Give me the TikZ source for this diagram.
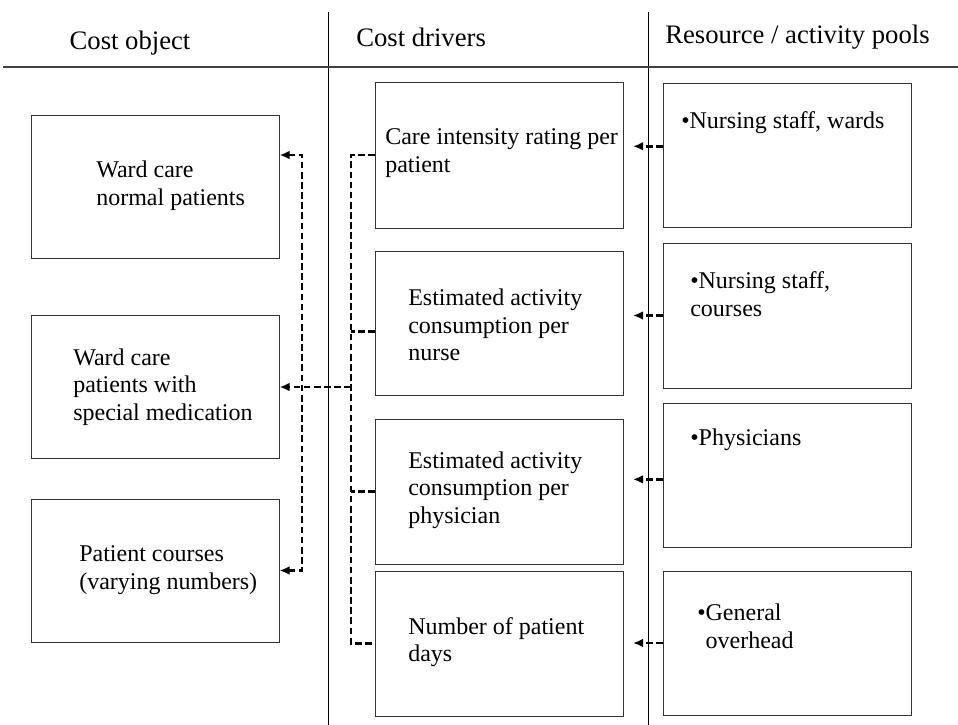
\documentclass[tikz,border=0pt]{standalone}
\usepackage{fontspec}
\setmainfont{Liberation Serif}
\usetikzlibrary{arrows.meta}

\tikzset{
    box/.style={draw=black!80, line width=0.75pt, minimum width=186pt, inner sep=0pt},
    txt/.style={anchor=west, inner sep=0pt, align=left, font=\fontsize{18}{20.7}\selectfont},
    head/.style={inner sep=0pt, font=\fontsize{20}{24}\selectfont},
    tip/.style={arrows={-Latex[length=7.5pt,width=6.5pt]}},
    link/.style={line width=2pt, dash pattern=on 5pt off 2.6pt, tip},
    rule/.style={line width=0.75pt}
}

\begin{document}
\begin{tikzpicture}[x=0.75pt,y=0.75pt,yscale=-1,xscale=1]
                    \useasboundingbox (0,0) rectangle (958,725);
                    %Straight Lines: columns and header rule
                    \draw [rule] (328,12) -- (328,725) ;
                    \draw [rule] (648,12) -- (648,725) ;
                    \draw [rule, black!75, line width=1pt] (3,67) -- (958,67) ;

                    % Headers
                    \node [head] (hobj) at (130,43) {Cost object};
                    \node [head, anchor=west] (hdrv) at (356,37) {Cost drivers};
                    \node [head, anchor=west] (hres) at (665,37) {Resource / activity pools};

                    %Shape: Rectangle (cost objects)
                    \node [box, minimum height=107.25pt] (l1) at (155,186.5) {};
                    \node [box, minimum height=107.25pt] (l2) at (155,387) {};
                    \node [box, minimum height=107.25pt] (l3) at (155,570.5) {};
                    %Shape: Rectangle (cost drivers)
                    \node [box, minimum height=109.5pt] (m1) at (499.5,155) {};
                    \node [box, minimum height=108pt] (m2) at (499.5,323) {};
                    \node [box, minimum height=108.75pt] (m3) at (499.5,491.5) {};
                    \node [box, minimum height=108.75pt] (m4) at (499.5,643.5) {};
                    %Shape: Rectangle (resource / activity pools)
                    \node [box, minimum height=108pt] (r1) at (787.5,155) {};
                    \node [box, minimum height=108.75pt] (r2) at (787.5,315.5) {};
                    \node [box, minimum height=108pt] (r3) at (787.5,475) {};
                    \node [box, minimum height=108pt] (r4) at (787.5,643) {};

                    % Text Node
                    \node [txt] (l1t) at (96,186) {Ward care\\normal patients};
                    \node [txt] (l2t) at (73,387) {Ward care\\patients with\\special medication};
                    \node [txt] (l3t) at (79,570) {Patient courses\\(varying numbers)};
                    \node [txt] (m1t) at (385,153) {Care intensity rating per\\patient};
                    \node [txt] (m2t) at (408,325) {Estimated activity\\consumption per\\nurse};
                    \node [txt] (m3t) at (408,490) {Estimated activity\\consumption per\\physician};
                    \node [txt] (m4t) at (408,642) {Number of patient\\days};
                    \node [txt] (r1t) at (681,123) {•Nursing staff, wards};
                    \node [txt] (r2t) at (690,294) {•Nursing staff,\\courses};
                    \node [txt] (r3t) at (690,440) {•Physicians};
                    \node [txt] (r4t) at (697,626) {•General\\\phantom{•}overhead};

                    %Dashed connectors: pools to drivers
                    \draw [link, shorten >=6.75pt] (r1.176) -- (r1.176 -| m1.east) ;
                    \draw [link, shorten >=6.75pt] (r2.west) -- (r2.west -| m2.east) ;
                    \draw [link, shorten >=6.75pt] (r3.182) -- (r3.182 -| m3.east) ;
                    \draw [link, shorten >=6.75pt] (r4.west) -- (r4.west -| m4.east) ;

                    %Dashed connectors: drivers to cost objects
                    \coordinate (busm) at (351,0);
                    \coordinate (busl) at (302,0);
                    \draw [link, arrows=-] (m1.west) -- (busm |- m1.west) -- (busm |- m4.west) -- (m4.west) ;
                    \draw [link, arrows=-] (m2.184) -- (busm |- m2.184) ;
                    \draw [link, arrows=-] (m3.west) -- (busm |- m3.west) ;
                    \draw [link] (busm |- l2.east) -- (l2.east) ;
                    \draw [link, arrows={Latex[length=7.5pt,width=6.5pt]-Latex[length=7.5pt,width=6.5pt]}] (l1.east |- m1.west) -- (busl |- m1.west) -- (busl |- l3.east) -- (l3.east) ;
\end{tikzpicture}
\end{document}
